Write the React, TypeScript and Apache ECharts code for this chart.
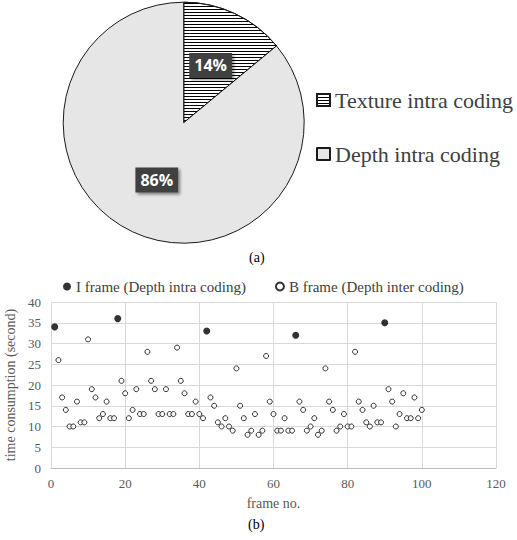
import React, { useEffect, useRef } from "react";
import * as echarts from "echarts";

const pieCategories = ["Texture intra coding", "Depth intra coding"];
const pieValues = [14, 86];

const iFrameNames = "I frame (Depth intra coding)";
const bFrameNames = "B frame (Depth inter coding)";

const iFrames = [1, 18, 42, 66, 90];
const iTimes = [34, 36, 33, 32, 35];

const bFrames = [
  2, 3, 4, 5, 6, 7, 8, 9, 10, 11, 12, 13, 14, 15, 16, 17,
  19, 20, 21, 22, 23, 24, 25, 26, 27, 28, 29, 30, 31, 32, 33, 34, 35, 36, 37, 38, 39, 40, 41,
  43, 44, 45, 46, 47, 48, 49, 50, 51, 52, 53, 54, 55, 56, 57, 58, 59, 60, 61, 62, 63, 64, 65,
  67, 68, 69, 70, 71, 72, 73, 74, 75, 76, 77, 78, 79, 80, 81, 82, 83, 84, 85, 86, 87, 88, 89,
  91, 92, 93, 94, 95, 96, 97, 98, 99, 100,
];
const bTimes = [
  26, 17, 14, 10, 10, 16, 11, 11, 31, 19, 17, 12, 13, 16, 12, 12,
  21, 18, 12, 14, 19, 13, 13, 28, 21, 19, 13, 13, 19, 13, 13, 29, 21, 18, 13, 13, 16, 13, 12,
  17, 15, 11, 10, 12, 10, 9, 24, 15, 12, 8, 9, 13, 8, 9, 27, 16, 13, 9, 9, 12, 9, 9,
  16, 14, 9, 10, 12, 8, 9, 24, 16, 14, 9, 10, 13, 10, 10, 28, 16, 14, 11, 10, 15, 11, 11,
  19, 16, 10, 13, 18, 12, 12, 17, 12, 14,
];

const xTicks = { min: 0, max: 120, interval: 20 };
const yTicks = { min: 0, max: 40, interval: 5 };

const SERIF = "Liberation Serif";

export default function App() {
  const ref = useRef<HTMLDivElement>(null);

  useEffect(() => {
    if (!ref.current) return;
    const chart = echarts.init(ref.current, null, { renderer: "svg" });

    const labelStyle = {
      show: true,
      position: "inside",
      formatter: "{d}%",
      color: "#ffffff",
      fontFamily: "Open Sans",
      fontWeight: "bold",
      fontSize: 16,
      backgroundColor: "#404040",
      padding: [5, 5, 4, 5],
      shadowColor: "rgba(0,0,0,0.45)",
      shadowBlur: 3,
      shadowOffsetX: 2,
      shadowOffsetY: 2,
    };

    const option: any = {
      animation: false,
      textStyle: { fontFamily: SERIF },
      legend: [
        {
          data: pieCategories,
          orient: "vertical",
          left: 316,
          top: 89,
          padding: 0,
          itemWidth: 13,
          itemHeight: 12,
          itemGap: 32,
          icon: "rect",
          textStyle: { fontSize: 22, color: "#404040", fontFamily: SERIF, lineHeight: 22 },
        },
        {
          data: [iFrameNames, bFrameNames],
          left: 63,
          top: 279,
          padding: 0,
          itemWidth: 8,
          itemHeight: 8,
          itemGap: 29,
          textStyle: { fontSize: 15, color: "#404040", fontFamily: SERIF },
        },
      ],
      grid: { left: 51, right: 21, top: 302, bottom: 72, outerBoundsMode: "none", containLabel: false },
      xAxis: {
        type: "value",
        min: xTicks.min,
        max: xTicks.max,
        interval: xTicks.interval,
        name: "frame no.",
        nameLocation: "middle",
        nameGap: 28,
        nameTextStyle: { fontSize: 14, color: "#595959", fontFamily: SERIF },
        axisLine: { show: true, lineStyle: { color: "#bfbfbf", width: 1 } },
        axisTick: { show: false },
        axisLabel: { fontSize: 13, color: "#595959", fontFamily: SERIF, margin: 9 },
        splitLine: { show: true, lineStyle: { color: "#d9d9d9", width: 1 } },
      },
      yAxis: {
        type: "value",
        min: yTicks.min,
        max: yTicks.max,
        interval: yTicks.interval,
        name: "time consumption (second)",
        nameLocation: "middle",
        nameGap: 31,
        nameRotate: 90,
        nameTextStyle: { fontSize: 14, color: "#595959", fontFamily: SERIF },
        axisLine: { show: true, lineStyle: { color: "#d9d9d9", width: 1 } },
        axisTick: { show: false },
        axisLabel: { fontSize: 13, color: "#595959", fontFamily: SERIF, margin: 10 },
        splitLine: { show: true, lineStyle: { color: "#d9d9d9", width: 1 } },
      },
      series: [
        {
          type: "pie",
          center: [183.7, 122.7],
          radius: 120.5,
          startAngle: 90,
          clockwise: true,
          label: labelStyle,
          labelLine: { show: false },
          emphasis: { disabled: true },
          data: [
            {
              name: pieCategories[0],
              value: pieValues[0],
              itemStyle: {
                color: "#ffffff",
                borderColor: "#1a1a1a",
                borderWidth: 1,
                decal: {
                  symbol: "rect",
                  symbolSize: 1,
                  color: "#000000",
                  dashArrayX: [1, 0],
                  dashArrayY: [1, 2],
                  rotation: 0,
                },
              },
            },
            {
              name: pieCategories[1],
              value: pieValues[1],
              itemStyle: { color: "#e7e6e6", borderColor: "#1a1a1a", borderWidth: 1 },
            },
          ],
        },
        {
          type: "scatter",
          name: iFrameNames,
          symbol: "circle",
          symbolSize: 7,
          itemStyle: { color: "#000000" },
          emphasis: { disabled: true },
          data: iFrames.map((f, i) => [f, iTimes[i]]),
          z: 3,
        },
        {
          type: "scatter",
          name: bFrameNames,
          symbol: "circle",
          symbolSize: 5,
          itemStyle: { color: "#ffffff", borderColor: "#000000", borderWidth: 1 },
          emphasis: { disabled: true },
          data: bFrames.map((f, i) => [f, bTimes[i]]),
          z: 2,
        },
      ],
      graphic: [
        {
          type: "text",
          left: 249,
          top: 250,
          style: { text: "(a)", fontSize: 14, fontFamily: SERIF, fill: "#000000" },
        },
        {
          type: "text",
          left: 248,
          top: 517,
          style: { text: "(b)", fontSize: 14, fontFamily: SERIF, fill: "#000000" },
        },
      ],
    };

    chart.setOption(option);
    return () => chart.dispose();
  }, []);

  return (
    <div
      ref={ref}
      style={{ position: "fixed", left: 0, top: 0, width: 517, height: 540, background: "#ffffff" }}
    />
  );
}
